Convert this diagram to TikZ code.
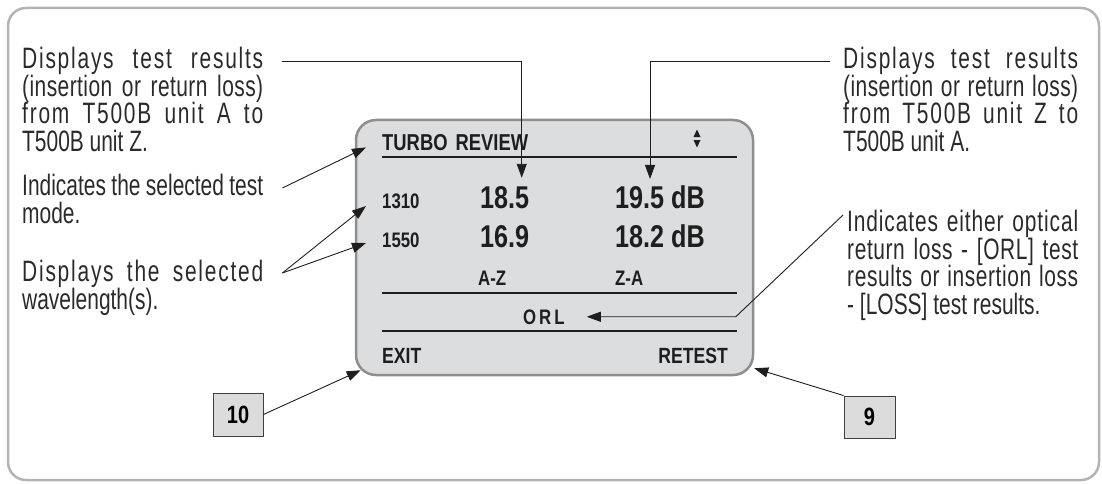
\documentclass[tikz,border=0pt]{standalone}
\usepackage{fontspec}
\newfontfamily\notefont[FakeStretch=0.71]{Liberation Sans}
\newfontfamily\lcdfont[FakeStretch=0.8]{Liberation Sans}
\newcommand{\tracked}[2]{{\addfontfeature{LetterSpace=#1}#2}}
\usetikzlibrary{arrows.meta,calc}
\definecolor{ink}{HTML}{1E1E1E}
\definecolor{notegray}{HTML}{2A2A2A}
\definecolor{framegray}{HTML}{B4B4B4}
\definecolor{screenfill}{HTML}{DCDDDF}
\definecolor{screenedge}{HTML}{8E8E8E}
\definecolor{keyfill}{HTML}{DCDCDC}
\tikzset{
  note/.style={
    inner sep=0pt,
    anchor=north west,
    align=justify,
    text width=241pt,
    text=notegray,
    font=\notefont\fontsize{29.5}{27.5}\selectfont
  },
  lcd/.style={inner sep=0pt, text=ink, font=\lcdfont\bfseries\fontsize{21}{21}\selectfont},
  lcdbig/.style={lcd, font=\lcdfont\bfseries\fontsize{31.5}{31.5}\selectfont},
  keybox/.style={
    draw=ink!85,
    fill=keyfill,
    line width=0.9pt,
    minimum width=50pt,
    minimum height=43pt,
    inner sep=0pt,
    font=\lcdfont\bfseries\fontsize{25}{25}\selectfont
  },
  callout/.style={draw=ink, line width=0.9pt, -{Triangle[length=14pt,width=10pt]}},
  lcdrule/.style={draw=ink, line width=2pt}
}

\begin{document}
\begin{tikzpicture}[x=1pt,y=-1pt]
  \useasboundingbox (0,0) rectangle (1102,484);
  \draw[framegray, line width=2.5pt, rounded corners=18pt] (8,8) rectangle (1099,480);

  % the display
  \node[draw=screenedge, fill=screenfill, line width=2.5pt, rounded corners=20pt,
        minimum width=397pt, minimum height=255pt, inner sep=0pt] (screen) at (554.5,247.5) {};
  \draw[lcdrule] (382,157) -- (737,157);
  \draw[lcdrule] (382,293) -- (737,293);
  \draw[lcdrule] (382,331) -- (737,331);

  \node[lcd, font=\lcdfont\bfseries\fontsize{23}{23}\selectfont, anchor=base west] (title) at (382,150) {TURBO\hspace{8pt}REVIEW};
  \fill[ink] (693.5,137) -- (700.5,137) -- (697,129.5) -- cycle;
  \fill[ink] (693.5,140) -- (700.5,140) -- (697,147.5) -- cycle;

  \node[lcd, anchor=base west] (wl1310) at (382,208) {1310};
  \node[lcd, anchor=base west] (wl1550) at (382,247) {1550};
  \node[lcdbig, anchor=base west] (az1) at (480,208) {18.5};
  \node[lcdbig, anchor=base west] (az2) at (480,247) {16.9};
  \node[lcdbig, anchor=base west] (za1) at (615,208) {19.5 dB};
  \node[lcdbig, anchor=base west] (za2) at (615,247) {18.2 dB};
  \node[lcd, anchor=base west] (azlabel) at (478,285) {A-Z};
  \node[lcd, anchor=base west] (zalabel) at (615,285) {Z-A};
  \node[lcd, anchor=base west] (mode) at (523,324) {\tracked{14}{ORL}};
  \node[lcd, font=\lcdfont\bfseries\fontsize{22}{22}\selectfont, anchor=base west] (exit) at (382,363) {EXIT};
  \node[lcd, font=\lcdfont\bfseries\fontsize{22}{22}\selectfont, anchor=base east] (retest) at (728,363) {RETEST};

  % keys
  \node[keybox] (key10) at (238,414.5) {10};
  \node[keybox, minimum width=51pt, minimum height=42pt] (key9) at (869.5,417) {9};

  % notes
  \node[note] (noteaz) at (22,47) {\tracked{6}{Displays test results}\linebreak \tracked{1.5}{(insertion or return loss)}\linebreak \tracked{6}{from T500B unit A to}\linebreak T500B unit Z.};
  \node[note] (notemode) at (22,174) {Indicates the selected test\linebreak mode.};
  \node[note] (notewl) at (22,260) {\tracked{6}{Displays the selected}\linebreak wavelength(s).};
  \node[note, text width=235pt] (noteza) at (843,47) {\tracked{6}{Displays test results}\linebreak \tracked{1.5}{(insertion or return loss)}\linebreak \tracked{6}{from T500B unit Z to}\linebreak T500B unit A.};
  \node[note, text width=231pt] (noteorl) at (847,210) {\tracked{3}{Indicates either optical}\linebreak \tracked{2}{return loss - [ORL] test}\linebreak \tracked{2}{results or insertion loss}\linebreak - [LOSS] test results.};

  % callouts
  \draw[callout] ($(noteaz.north east)+(19,14)$) -| ([xshift=17pt,yshift=8pt]az1.north);
  \draw[callout] ($(noteza.north west)+(-13,14)$) -| ([xshift=-10pt,yshift=6pt]za1.north);
  \draw[callout] ($(notemode.north east)+(19,14)$) -- ([xshift=-16pt,yshift=3pt]title.south west);
  \draw[callout] ($(notewl.north east)+(19,13)$) -- ([xshift=-16pt,yshift=2pt]wl1310.base west);
  \draw[callout] ($(notewl.north east)+(19,13)$) -- ([xshift=-16pt,yshift=4pt]wl1550.base west);
  \draw[callout] ($(noteorl.north west)+(-4,5)$) -- ([xshift=171pt]mode.east) -- ([xshift=22pt]mode.east);
  \draw[callout] (key10.east) -- ([xshift=6pt,yshift=6pt]screen.south west);
  \draw[callout] (key9.north west) -- ([yshift=8pt]screen.south east);
\end{tikzpicture}
\end{document}
